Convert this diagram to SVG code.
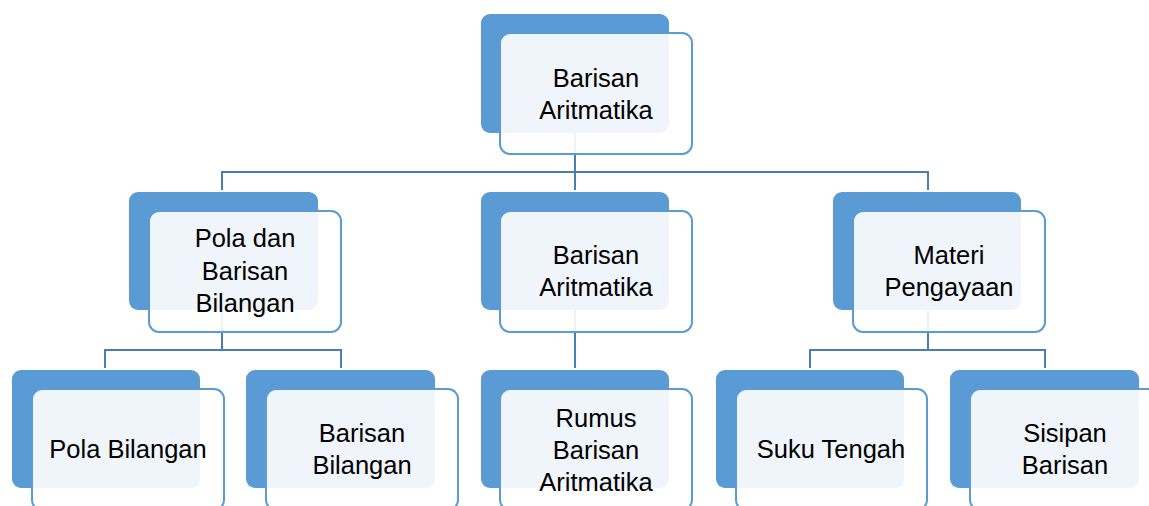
<svg xmlns="http://www.w3.org/2000/svg" width="1149" height="506" viewBox="0 0 1149 506">
<style>
.back{fill:#5B9BD5;}
.card{fill:#FFFFFF;fill-opacity:0.9;stroke:#5B9BD5;stroke-width:2;}
.conn{fill:none;stroke:#4A7EB3;stroke-width:2;}
text{font-family:"Liberation Sans",Arial,sans-serif;font-size:25.5px;fill:#000000;text-anchor:middle;}
</style>
<rect width="1149" height="506" fill="#FFFFFF"/>
<g id="connectors" class="conn">
<path d="M575 133 V190"/>
<path d="M222 190 V172 H928 V190"/>
<path d="M222 310 V350"/>
<path d="M105 368 V350 H341 V368"/>
<path d="M575 310 V368"/>
<path d="M928 310 V350"/>
<path d="M810 368 V350 H1045 V368"/>
</g>
<g id="node-root">
<rect class="back" x="481" y="14" width="188" height="119" rx="9"/>
<rect class="card" x="500" y="33" width="192" height="121" rx="10"/>
<text x="596" y="87">Barisan</text>
<text x="596" y="119">Aritmatika</text>
</g>
<g id="node-pola-dan-barisan">
<rect class="back" x="129" y="192" width="189" height="118" rx="9"/>
<rect class="card" x="149" y="211" width="192" height="121" rx="10"/>
<text x="245" y="247">Pola dan</text>
<text x="245" y="280">Barisan</text>
<text x="245" y="312">Bilangan</text>
</g>
<g id="node-barisan-aritmatika">
<rect class="back" x="481" y="192" width="188" height="118" rx="9"/>
<rect class="card" x="500" y="211" width="192" height="121" rx="10"/>
<text x="596" y="264">Barisan</text>
<text x="596" y="296">Aritmatika</text>
</g>
<g id="node-materi-pengayaan">
<rect class="back" x="833" y="192" width="188" height="118" rx="9"/>
<rect class="card" x="853" y="211" width="192" height="121" rx="10"/>
<text x="949" y="264">Materi</text>
<text x="949" y="296">Pengayaan</text>
</g>
<g id="node-pola-bilangan">
<rect class="back" x="12" y="370" width="188" height="118" rx="9"/>
<rect class="card" x="32" y="389" width="192" height="121" rx="10"/>
<text x="128" y="458">Pola Bilangan</text>
</g>
<g id="node-barisan-bilangan">
<rect class="back" x="246" y="370" width="189" height="118" rx="9"/>
<rect class="card" x="266" y="389" width="192" height="121" rx="10"/>
<text x="362" y="442">Barisan</text>
<text x="362" y="474">Bilangan</text>
</g>
<g id="node-rumus">
<rect class="back" x="481" y="370" width="188" height="118" rx="9"/>
<rect class="card" x="500" y="389" width="192" height="121" rx="10"/>
<text x="596" y="427">Rumus</text>
<text x="596" y="459">Barisan</text>
<text x="596" y="491">Aritmatika</text>
</g>
<g id="node-suku-tengah">
<rect class="back" x="716" y="370" width="188" height="118" rx="9"/>
<rect class="card" x="736" y="389" width="191" height="121" rx="10"/>
<text x="831" y="458">Suku Tengah</text>
</g>
<g id="node-sisipan-barisan">
<rect class="back" x="950" y="370" width="189" height="118" rx="9"/>
<rect class="card" x="970" y="389" width="192" height="121" rx="10"/>
<text x="1065" y="442">Sisipan</text>
<text x="1065" y="474">Barisan</text>
</g>
</svg>
